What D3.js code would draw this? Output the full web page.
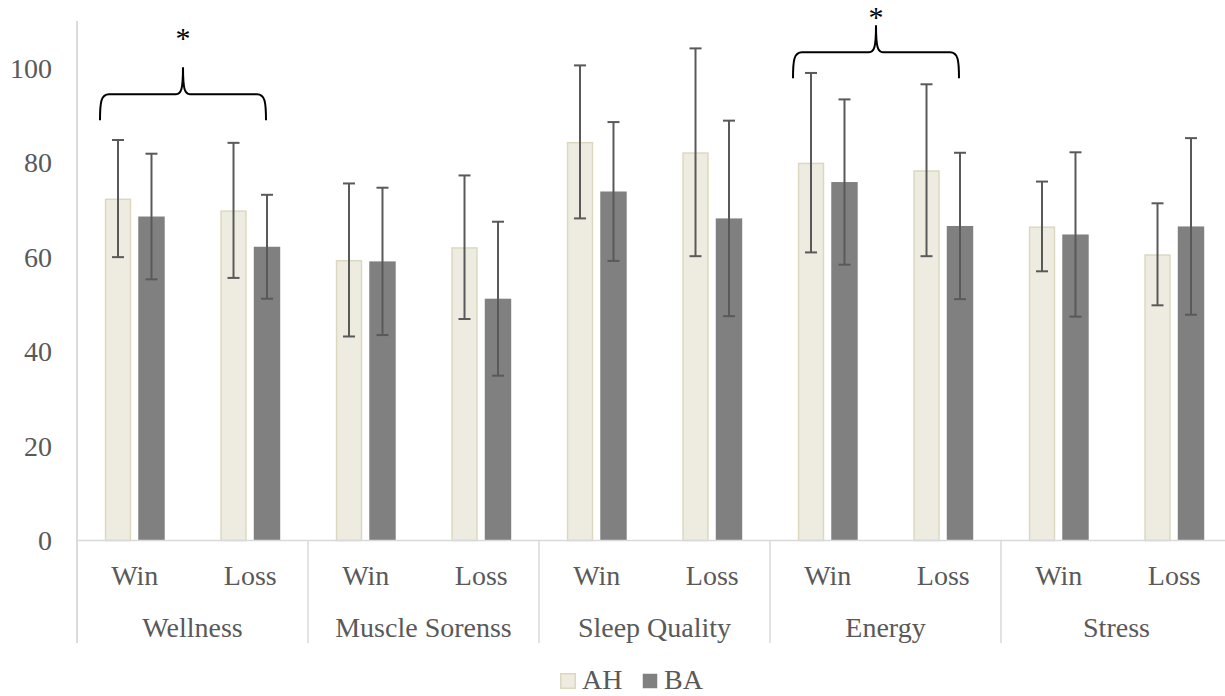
<!DOCTYPE html>
<html>
<head>
<meta charset="utf-8">
<script src="https://cdn.jsdelivr.net/npm/d3@7"></script>
<style>
  body { margin: 0; background: #fff; }
  text { font-family: "Liberation Serif", "Times New Roman", serif; }
</style>
</head>
<body>
<svg width="1225" height="696"></svg>
<script>
var groups = ["Wellness", "Muscle Sorenss", "Sleep Quality", "Energy", "Stress"],
    outcomes = ["Win", "Loss"],
    series = ["AH", "BA"];

// means per group, [Win, Loss]
var ahMean = [[72.4, 69.9], [59.4, 62.1], [84.4, 82.2], [80.0, 78.4], [66.5, 60.6]],
    baMean = [[68.6, 62.2], [59.1, 51.2], [73.9, 68.2], [75.9, 66.6], [64.8, 66.5]];
// error (± sd)
var ahErr = [[12.4, 14.3], [16.2, 15.2], [16.2, 22.0], [19.0, 18.2], [9.5, 10.8]],
    baErr = [[13.3, 11.0], [15.6, 16.3], [14.7, 20.7], [17.5, 15.5], [17.4, 18.7]];

var yTicks = [0, 20, 40, 60, 80, 100];

// significance braces
var braceGroups = ["Wellness", "Energy"],
    braceLevels = [94.5, 103.4],
    braceLabels = ["*", "*"];

var colors = {AH: "#EEECE1", BA: "#808080"},
    strokes = {AH: "#DCD8C0", BA: "none"};

var svg = d3.select("svg"),
    plotL = 77, plotR = 1232, plotT = 21, plotB = 540.5;

var x0 = d3.scaleBand().domain(groups).range([plotL, plotR]).padding(0),
    x1 = d3.scaleBand().domain(outcomes).range([0, x0.bandwidth()]),
    xs = d3.scaleBand().domain(series).range([0, x1.bandwidth()]).paddingInner(0.21).paddingOuter(0.83),
    y = d3.scaleLinear().domain([0, 110]).range([plotB, plotT]);

var rows = [];
groups.forEach(function(g, gi) {
  outcomes.forEach(function(o, oi) {
    rows.push({g: g, o: o, s: "AH", v: ahMean[gi][oi], e: ahErr[gi][oi]});
    rows.push({g: g, o: o, s: "BA", v: baMean[gi][oi], e: baErr[gi][oi]});
  });
});

function bx(d) { return x0(d.g) + x1(d.o) + xs(d.s); }

// bars
svg.append("g").selectAll("rect")
  .data(rows)
  .enter().append("rect")
  .attr("x", function(d) { return bx(d) + (d.s == "AH" ? 0.75 : 0); })
  .attr("y", function(d) { return y(d.v) + (d.s == "AH" ? 0.75 : 0); })
  .attr("width", function(d) { return xs.bandwidth() - (d.s == "AH" ? 1.5 : 0); })
  .attr("height", function(d) { return plotB - y(d.v) - (d.s == "AH" ? 0.75 : 0); })
  .attr("fill", function(d) { return colors[d.s]; })
  .attr("stroke", function(d) { return strokes[d.s]; })
  .attr("stroke-width", 1.5);

// error bars
var eb = svg.append("g").attr("stroke", "#595959").attr("stroke-width", 2)
  .selectAll("g").data(rows).enter().append("g")
  .attr("transform", function(d) { return "translate(" + (bx(d) + xs.bandwidth() / 2) + ",0)"; });
eb.append("line").attr("y1", function(d) { return y(d.v + d.e); }).attr("y2", function(d) { return y(d.v - d.e); });
eb.append("line").attr("x1", -6).attr("x2", 6)
  .attr("y1", function(d) { return y(d.v + d.e); }).attr("y2", function(d) { return y(d.v + d.e); });
eb.append("line").attr("x1", -6).attr("x2", 6)
  .attr("y1", function(d) { return y(d.v - d.e); }).attr("y2", function(d) { return y(d.v - d.e); });

// y axis
var yAxis = svg.append("g").attr("transform", "translate(" + plotL + ",0)")
  .call(d3.axisLeft(y).tickValues(yTicks).tickSize(0).tickPadding(25));
yAxis.select(".domain").attr("stroke", "#C8C8C8").attr("stroke-width", 1.3).attr("d", "M0," + plotT + "V643");
yAxis.selectAll("text").attr("fill", "#595959").style("font-size", "28px")
  .style("font-family", "'Liberation Serif', 'Times New Roman', serif");

// x axis baseline and separators
svg.append("line").attr("x1", plotL).attr("x2", plotR).attr("y1", plotB).attr("y2", plotB)
  .attr("stroke", "#D9D9D9").attr("stroke-width", 1.5);
svg.append("g").selectAll("line")
  .data(groups.slice(1).concat(["end"]))
  .enter().append("line")
  .attr("x1", function(d) { return d == "end" ? plotR : x0(d); })
  .attr("x2", function(d) { return d == "end" ? plotR : x0(d); })
  .attr("y1", plotB).attr("y2", 643)
  .attr("stroke", "#D9D9D9").attr("stroke-width", 1.5);

// category labels
var cats = [];
groups.forEach(function(g) { outcomes.forEach(function(o) { cats.push({g: g, o: o}); }); });
svg.append("g").selectAll("text")
  .data(cats).enter().append("text")
  .attr("x", function(d) { return x0(d.g) + x1(d.o) + x1.bandwidth() / 2; })
  .attr("y", 585)
  .attr("text-anchor", "middle")
  .attr("fill", "#595959")
  .style("font-size", "28px")
  .text(function(d) { return d.o; });
svg.append("g").selectAll("text")
  .data(groups).enter().append("text")
  .attr("x", function(d) { return x0(d) + x0.bandwidth() / 2; })
  .attr("y", 637)
  .attr("text-anchor", "middle")
  .attr("fill", "#595959")
  .style("font-size", "28px")
  .text(function(d) { return d; });

// braces
braceGroups.forEach(function(g, i) {
  var a = x0(g) + 23, b = x0(g) + 189, m = (a + b) / 2,
      yh = y(braceLevels[i]), yb = yh + 26, yp = yh - 27;
  var p = d3.path();
  p.moveTo(a, yb);
  p.bezierCurveTo(a, yb - 18, a + 1, yh, a + 9, yh);
  p.lineTo(m - 7, yh);
  p.bezierCurveTo(m - 2, yh, m, yh - 4, m, yp);
  p.bezierCurveTo(m, yh - 4, m + 2, yh, m + 7, yh);
  p.lineTo(b - 9, yh);
  p.bezierCurveTo(b - 1, yh, b, yb - 18, b, yb);
  svg.append("path").attr("d", p.toString())
    .attr("fill", "none").attr("stroke", "#000").attr("stroke-width", 2);
  svg.append("text").attr("x", m).attr("y", Math.max(yp - 19, 27))
    .attr("text-anchor", "middle").attr("fill", "#000")
    .style("font-size", "30px").text(braceLabels[i]);
});

// legend
var lg = svg.append("g").attr("transform", "translate(560,673)");
var li = lg.selectAll("g").data(series).enter().append("g")
  .attr("transform", function(d, i) { return "translate(" + (i * 82) + ",0)"; });
li.append("rect").attr("x", 0.75).attr("y", 0.75).attr("width", 14.5).attr("height", 14.5)
  .attr("fill", function(d) { return colors[d]; })
  .attr("stroke", function(d) { return strokes[d]; }).attr("stroke-width", 1.5);
li.append("text").attr("x", 22).attr("y", 16)
  .attr("fill", "#595959").style("font-size", "28px")
  .text(function(d) { return d; });
</script>
</body>
</html>
